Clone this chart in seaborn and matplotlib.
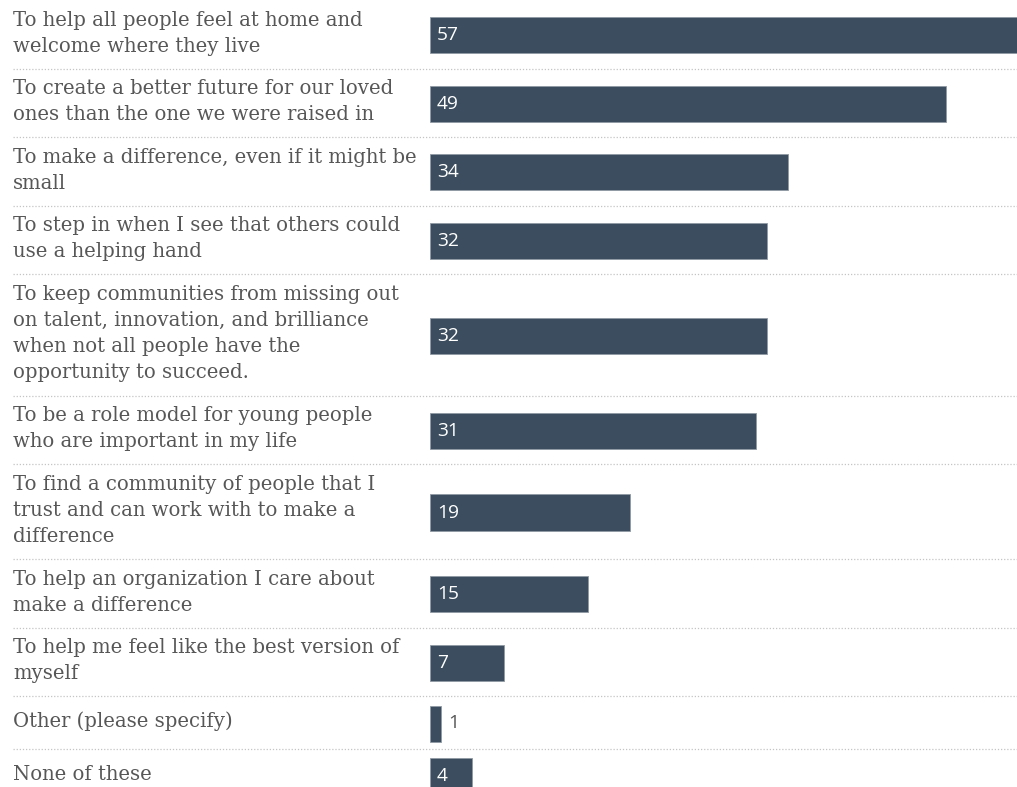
import matplotlib
matplotlib.use("Agg")
import matplotlib.pyplot as plt
import seaborn as sns
import pandas as pd
from matplotlib.lines import Line2D

# Survey answers and percentage of respondents choosing each
reasons = [
    "To help all people feel at home and\nwelcome where they live",
    "To create a better future for our loved\nones than the one we were raised in",
    "To make a difference, even if it might be\nsmall",
    "To step in when I see that others could\nuse a helping hand",
    "To keep communities from missing out\non talent, innovation, and brilliance\nwhen not all people have the\nopportunity to succeed.",
    "To be a role model for young people\nwho are important in my life",
    "To find a community of people that I\ntrust and can work with to make a\ndifference",
    "To help an organization I care about\nmake a difference",
    "To help me feel like the best version of\nmyself",
    "Other (please specify)",
    "None of these",
]
values = [57, 49, 34, 32, 32, 31, 19, 15, 7, 1, 4]

BAR_COLOR = "#3b4d5e"
TEXT_COLOR = "#575757"
SEP_COLOR = "#c4c4c4"

W, H = 1017, 787
sns.set_theme(style="white")
plt.rcParams["font.family"] = ["DejaVu Serif", "DejaVu Sans"]

fig = plt.figure(figsize=(W / 100, H / 100), dpi=100)
fig.patch.set_facecolor("white")

bar_left = 430          # px
bar_span = 600          # px covered by 0..57
x_max = 57
bar_px = 36             # bar thickness in px
line_px = 26.5          # label line pitch in px

top = 0.0
for i, (reason, val) in enumerate(zip(reasons, values)):
    n_lines = reason.count("\n") + 1
    row_h = max(53.0, 15.5 + line_px * n_lines)
    y_top = top
    y_bot = top + row_h
    yc = (y_top + y_bot) / 2 + 1

    ax = fig.add_axes([bar_left / W, 1 - y_bot / H, bar_span / W, row_h / H])
    df = pd.DataFrame({"reason": [reason], "value": [val]})
    sns.barplot(data=df, x="value", y="reason", orient="h", color=BAR_COLOR,
                saturation=1, width=0.8, edgecolor="#8f9aa4", linewidth=0.6,
                ax=ax)
    half = (row_h / bar_px) * 0.8 / 2
    shift = (yc - (y_top + y_bot) / 2) / bar_px * 0.8
    ax.set_ylim(half - shift, -half - shift)
    ax.set_xlim(0, x_max)
    ax.axis("off")

    # value label
    if val >= 3:
        ax.annotate(str(val), xy=(0, 0), xytext=(5.0, 0), textcoords="offset points",
                    ha="left", va="center", color="white", fontsize=13.8,
                    family=["Open Sans", "DejaVu Sans"])
    else:
        ax.annotate(str(val), xy=(val, 0), xytext=(5.5, 0), textcoords="offset points",
                    ha="left", va="center", color=TEXT_COLOR, fontsize=13.8,
                    family=["Open Sans", "DejaVu Sans"])

    # category label
    fig.text(13 / W, 1 - ((y_top + y_bot) / 2 - 1) / H, reason, ha="left", va="center",
             multialignment="left", color=TEXT_COLOR, fontsize=14.1,
             family=["DejaVu Serif"], linespacing=1.46)

    # dotted separator below the row
    if i < len(reasons) - 1:
        fig.add_artist(Line2D([13 / W, 1.0], [1 - y_bot / H] * 2,
                              transform=fig.transFigure, color=SEP_COLOR,
                              linewidth=0.9, linestyle=(0, (1, 1.5))))
    top = y_bot

fig.savefig("out.png", dpi=100, facecolor="white")
